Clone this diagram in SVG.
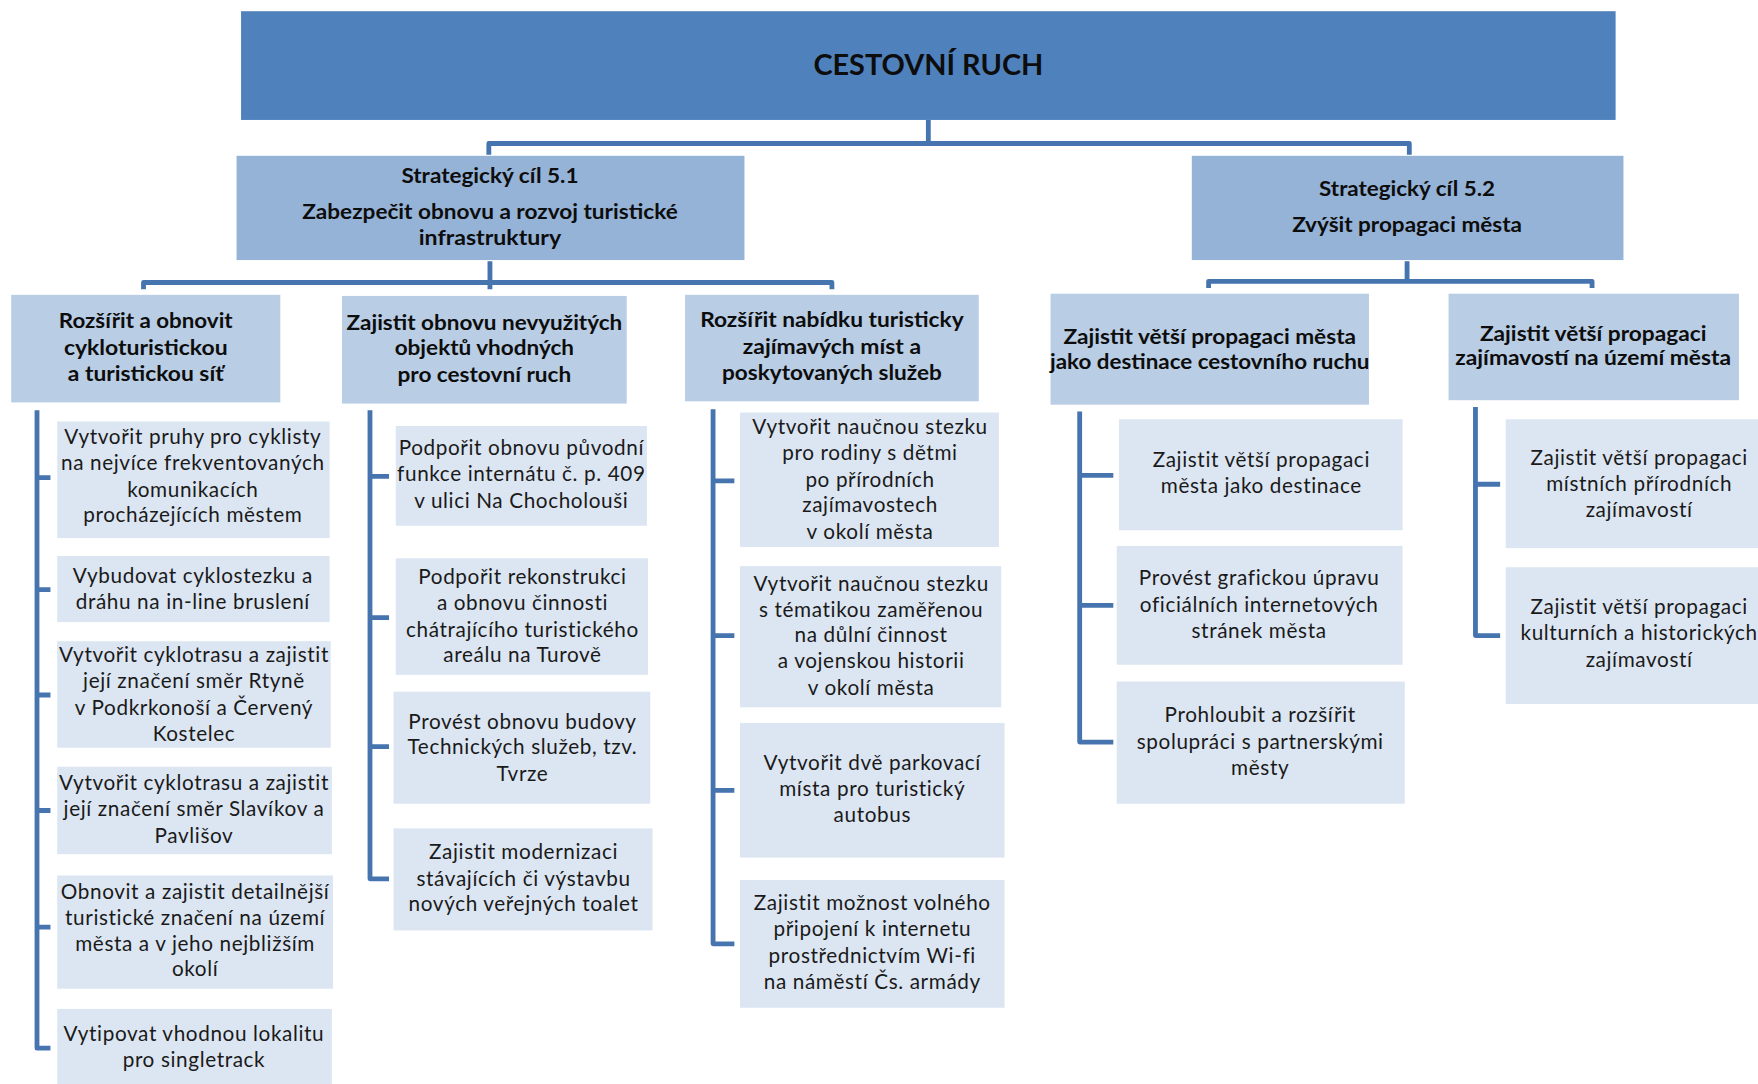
<svg xmlns="http://www.w3.org/2000/svg" width="1758" height="1084" viewBox="0 0 1758 1084">
<style>
.top{fill:#4F81BD}
.s{fill:#95B3D7}
.l3{fill:#B9CDE5}
.l4{fill:#DCE6F2}
.h{font-family:Lato,"Liberation Sans",sans-serif;font-weight:bold;font-size:19px;fill:#0d0d0d;text-anchor:middle}
.ttl{font-family:Lato,"Liberation Sans",sans-serif;font-weight:bold;font-size:25px;fill:#0d0d0d;text-anchor:middle}
.t{font-family:Lato,"Liberation Sans",sans-serif;font-size:18.5px;letter-spacing:0.55px;fill:#1a1a1a;text-anchor:middle}
.c{fill:none;stroke:#4674AF;stroke-width:4.3;stroke-linejoin:round;stroke-linecap:butt}
</style>
<rect width="1758" height="1084" fill="#fff"/>
<g transform="scale(1.12117,1.12099)">
<g id="connectors">
<path class="c" d="M828,107V128M436,138V128H1257V138"/>
<path class="c" d="M437,233V258M128,258V252H742V258"/>
<path class="c" d="M1255,233V251M1078,257V251H1420V257"/>
<path class="c" d="M33,366V935H45M33,426H45M33,526H45M33,620H45M33,723H45M33,827H45"/>
<path class="c" d="M330,366V784H347M330,425H347M330,551H347M330,666H347"/>
<path class="c" d="M636,365V842H655M636,429H655M636,567H655M636,705H655"/>
<path class="c" d="M963,367V662H993M963,424H993M963,540H993"/>
<path class="c" d="M1316,363V567H1338M1316,432H1338"/>
</g>
<g id="root"><rect class="top" x="215" y="10" width="1226" height="97"/>
<text class="ttl" x="828" y="67" textLength="205" lengthAdjust="spacingAndGlyphs">CESTOVNÍ RUCH</text></g>
<g id="s51"><rect class="s" x="211" y="139" width="453" height="93"/>
<text class="h"><tspan x="437" y="163" textLength="158" lengthAdjust="spacingAndGlyphs">Strategický cíl 5.1</tspan><tspan x="437" y="195" textLength="335" lengthAdjust="spacingAndGlyphs">Zabezpečit obnovu a rozvoj turistické</tspan><tspan x="437" y="219" textLength="127" lengthAdjust="spacingAndGlyphs">infrastruktury</tspan></text></g>
<g id="s52"><rect class="s" x="1063" y="139" width="385" height="93"/>
<text class="h"><tspan x="1255" y="175" textLength="157" lengthAdjust="spacingAndGlyphs">Strategický cíl 5.2</tspan><tspan x="1255" y="207" textLength="205" lengthAdjust="spacingAndGlyphs">Zvýšit propagaci města</tspan></text></g>
<g id="a"><rect class="l3" x="10" y="263" width="240" height="96"/>
<text class="h"><tspan x="130" y="293" textLength="155" lengthAdjust="spacingAndGlyphs">Rozšířit a obnovit</tspan><tspan x="130" y="317" textLength="146" lengthAdjust="spacingAndGlyphs">cykloturistickou</tspan><tspan x="130" y="340" textLength="139" lengthAdjust="spacingAndGlyphs">a turistickou síť</tspan></text></g>
<g id="b"><rect class="l3" x="305" y="264" width="254" height="96"/>
<text class="h"><tspan x="432" y="294" textLength="246" lengthAdjust="spacingAndGlyphs">Zajistit obnovu nevyužitých</tspan><tspan x="432" y="317" textLength="160" lengthAdjust="spacingAndGlyphs">objektů vhodných</tspan><tspan x="432" y="341" textLength="155" lengthAdjust="spacingAndGlyphs">pro cestovní ruch</tspan></text></g>
<g id="c"><rect class="l3" x="611" y="263" width="262" height="95"/>
<text class="h"><tspan x="742" y="292" textLength="235" lengthAdjust="spacingAndGlyphs">Rozšířit nabídku turisticky</tspan><tspan x="742" y="316" textLength="159" lengthAdjust="spacingAndGlyphs">zajímavých míst a</tspan><tspan x="742" y="339" textLength="196" lengthAdjust="spacingAndGlyphs">poskytovaných služeb</tspan></text></g>
<g id="d"><rect class="l3" x="937" y="262" width="284" height="99"/>
<text class="h"><tspan x="1079" y="307" textLength="261" lengthAdjust="spacingAndGlyphs">Zajistit větší propagaci města</tspan><tspan x="1079" y="329" textLength="285" lengthAdjust="spacingAndGlyphs">jako destinace cestovního ruchu</tspan></text></g>
<g id="e"><rect class="l3" x="1292" y="262" width="259" height="95"/>
<text class="h"><tspan x="1421" y="304" textLength="202" lengthAdjust="spacingAndGlyphs">Zajistit větší propagaci</tspan><tspan x="1421" y="326" textLength="246" lengthAdjust="spacingAndGlyphs">zajímavostí na území města</tspan></text></g>
<g id="a1"><rect class="l4" x="51" y="376" width="243" height="104"/>
<text class="t"><tspan x="172" y="396">Vytvořit pruhy pro cyklisty</tspan><tspan x="172" y="419">na nejvíce frekventovaných</tspan><tspan x="172" y="443">komunikacích</tspan><tspan x="172" y="466">procházejících městem</tspan></text></g>
<g id="a2"><rect class="l4" x="51" y="496" width="243" height="59"/>
<text class="t"><tspan x="172" y="520">Vybudovat cyklostezku a</tspan><tspan x="172" y="543">dráhu na in-line bruslení</tspan></text></g>
<g id="a3"><rect class="l4" x="51" y="572" width="244" height="95"/>
<text class="t"><tspan x="173" y="591">Vytvořit cyklotrasu a zajistit</tspan><tspan x="173" y="614">její značení směr Rtyně</tspan><tspan x="173" y="638">v Podkrkonoší a Červený</tspan><tspan x="173" y="661">Kostelec</tspan></text></g>
<g id="a4"><rect class="l4" x="51" y="684" width="245" height="78"/>
<text class="t"><tspan x="173" y="705">Vytvořit cyklotrasu a zajistit</tspan><tspan x="173" y="728">její značení směr Slavíkov a</tspan><tspan x="173" y="752">Pavlišov</tspan></text></g>
<g id="a5"><rect class="l4" x="51" y="781" width="246" height="101"/>
<text class="t"><tspan x="174" y="802">Obnovit a  zajistit detailnější</tspan><tspan x="174" y="825">turistické značení na území</tspan><tspan x="174" y="848">města a v jeho nejbližším</tspan><tspan x="174" y="871">okolí</tspan></text></g>
<g id="a6"><rect class="l4" x="51" y="900" width="245" height="67"/>
<text class="t"><tspan x="173" y="929">Vytipovat vhodnou lokalitu</tspan><tspan x="173" y="952">pro singletrack</tspan></text></g>
<g id="b1"><rect class="l4" x="353" y="380" width="224" height="89"/>
<text class="t"><tspan x="465" y="406">Podpořit obnovu původní</tspan><tspan x="465" y="429">funkce internátu č. p. 409</tspan><tspan x="465" y="453">v ulici Na Chocholouši</tspan></text></g>
<g id="b2"><rect class="l4" x="353" y="498" width="225" height="104"/>
<text class="t"><tspan x="466" y="521">Podpořit rekonstrukci</tspan><tspan x="466" y="544">a obnovu činnosti</tspan><tspan x="466" y="568">chátrajícího turistického</tspan><tspan x="466" y="591">areálu na Turově</tspan></text></g>
<g id="b3"><rect class="l4" x="351" y="617" width="229" height="100"/>
<text class="t"><tspan x="466" y="650">Provést obnovu budovy</tspan><tspan x="466" y="673">Technických služeb, tzv.</tspan><tspan x="466" y="697">Tvrze</tspan></text></g>
<g id="b4"><rect class="l4" x="351" y="739" width="231" height="91"/>
<text class="t"><tspan x="467" y="766">Zajistit modernizaci</tspan><tspan x="467" y="790">stávajících či výstavbu</tspan><tspan x="467" y="813">nových veřejných toalet</tspan></text></g>
<g id="c1"><rect class="l4" x="660" y="368" width="231" height="120"/>
<text class="t"><tspan x="776" y="387">Vytvořit naučnou stezku</tspan><tspan x="776" y="410">pro rodiny s dětmi</tspan><tspan x="776" y="434">po přírodních</tspan><tspan x="776" y="457">zajímavostech</tspan><tspan x="776" y="481">v okolí města</tspan></text></g>
<g id="c2"><rect class="l4" x="660" y="505" width="233" height="126"/>
<text class="t"><tspan x="777" y="527">Vytvořit naučnou stezku</tspan><tspan x="777" y="550">s tématikou zaměřenou</tspan><tspan x="777" y="573">na důlní činnost</tspan><tspan x="777" y="596">a vojenskou historii</tspan><tspan x="777" y="620">v okolí města</tspan></text></g>
<g id="c3"><rect class="l4" x="660" y="645" width="236" height="120"/>
<text class="t"><tspan x="778" y="687">Vytvořit dvě parkovací</tspan><tspan x="778" y="710">místa pro turistický</tspan><tspan x="778" y="733">autobus</tspan></text></g>
<g id="c4"><rect class="l4" x="660" y="785" width="236" height="114"/>
<text class="t"><tspan x="778" y="812">Zajistit možnost volného</tspan><tspan x="778" y="835">připojení k internetu</tspan><tspan x="778" y="859">prostřednictvím Wi-fi</tspan><tspan x="778" y="882">na náměstí Čs. armády</tspan></text></g>
<g id="d1"><rect class="l4" x="998" y="374" width="253" height="99"/>
<text class="t"><tspan x="1125" y="417">Zajistit větší propagaci</tspan><tspan x="1125" y="440">města jako destinace</tspan></text></g>
<g id="d2"><rect class="l4" x="996" y="487" width="255" height="106"/>
<text class="t"><tspan x="1123" y="522">Provést grafickou úpravu</tspan><tspan x="1123" y="546">oficiálních internetových</tspan><tspan x="1123" y="569">stránek města</tspan></text></g>
<g id="d3"><rect class="l4" x="996" y="608" width="257" height="109"/>
<text class="t"><tspan x="1124" y="644">Prohloubit a rozšířit</tspan><tspan x="1124" y="668">spolupráci s partnerskými</tspan><tspan x="1124" y="691">městy</tspan></text></g>
<g id="e1"><rect class="l4" x="1343" y="374" width="230" height="115"/>
<text class="t"><tspan x="1462" y="415">Zajistit větší propagaci</tspan><tspan x="1462" y="438">místních přírodních</tspan><tspan x="1462" y="461">zajímavostí</tspan></text></g>
<g id="e2"><rect class="l4" x="1343" y="506" width="230" height="122"/>
<text class="t"><tspan x="1462" y="548">Zajistit větší propagaci</tspan><tspan x="1462" y="571">kulturních a historických</tspan><tspan x="1462" y="595">zajímavostí</tspan></text></g>
</g>
</svg>
